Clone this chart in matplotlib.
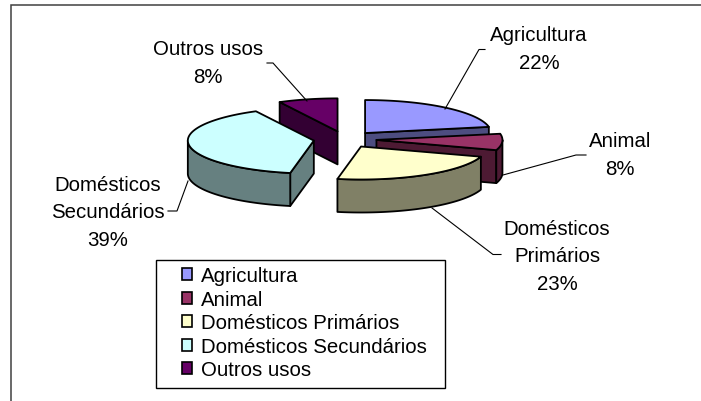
import numpy as np
import matplotlib
matplotlib.use("Agg")
import matplotlib.pyplot as plt
from matplotlib.patches import Polygon, Rectangle

# ---- data
categories = ["Agricultura", "Animal", "Domésticos Primários",
              "Domésticos Secundários", "Outros usos"]
chart_labels = ["Agricultura", "Animal", "Domésticos\nPrimários",
                "Domésticos\nSecundários", "Outros usos"]
values = [22, 8, 23, 39.4, 7.6]
top_colors = ["#9999FF", "#993366", "#FFFFCC", "#CCFFFF", "#660066"]
side_colors = ["#4D4D80", "#4D1A33", "#808066", "#668080", "#330033"]

# ---- layout (pixels of the 701x402 canvas)
W, H = 701, 402
CX, CY = 345.0, 140.4
RX, RY = 126.0, 33.0
DEPTH = 33.0
EXPLODE = 0.25
FONT = 14.7
label_anchor = [(539, 69), (620, 175), (557, 290), (108, 246), (208, 83)]
leaders = [[(445, 110), (479, 50.5), (485, 50.5)],
           [(503, 176), (576, 156), (586, 156)],
           [(432, 209), (493, 255.5), (501, 255.5)],
           [(188, 182), (177, 212), (168, 212)],
           [(307, 102), (273, 64), (267, 64)]]
draw_order = [4, 3, 0, 1, 2]

plt.rcParams["font.family"] = ["Liberation Sans", "DejaVu Sans"]
fig = plt.figure(figsize=(W / 100, H / 100), dpi=100, facecolor="white")
ax = fig.add_axes([0, 0, 1, 1])
ax.set_xlim(0, W)
ax.set_ylim(H, 0)
ax.axis("off")

# outer frame: only the top and left edges are in the picture
ax.plot([11, 11, W], [H, 6, 6], color="#404040", lw=1.1, solid_joinstyle="miter")


def ell(deg, cx, cy):
    a = np.radians(deg)
    return np.column_stack([cx + RX * np.sin(a), cy - RY * np.cos(a)])


total = sum(values)
edges = np.concatenate([[0], np.cumsum(values)]) / total * 360
style = dict(edgecolor="black", linewidth=1.3, joinstyle="round")

for i in draw_order:
    a0, a1 = edges[i], edges[i + 1]
    mid = np.radians((a0 + a1) / 2)
    cx = CX + EXPLODE * RX * np.sin(mid)
    cy = CY - EXPLODE * RY * np.cos(mid)
    apex = np.array([cx, cy])
    m = ell((a0 + a1) / 2, cx, cy)[0] - apex
    # straight cut walls that face the viewer
    for a in (a0, a1):
        p = ell(a, cx, cy)[0]
        d = p - apex
        if abs(d[0]) > 1 and (d[0] * m[1] - d[1] * m[0]) * d[0] < 0:
            ax.add_patch(Polygon([apex, p, p + [0, DEPTH], apex + [0, DEPTH]],
                                 facecolor=side_colors[i], **style))
    # rim wall (front half of the ellipse only)
    lo, hi = max(a0, 90), min(a1, 270)
    if hi > lo:
        arc = ell(np.linspace(lo, hi, 80), cx, cy)
        ax.add_patch(Polygon(np.vstack([arc, arc[::-1] + [0, DEPTH]]),
                             facecolor=side_colors[i], **style))
    # top face
    arc = ell(np.linspace(a0, a1, 120), cx, cy)
    ax.add_patch(Polygon(np.vstack([apex, arc]), facecolor=top_colors[i], **style))

# leader lines and data labels
for lab, val, (x, y), pts in zip(chart_labels, values, label_anchor, leaders):
    xs, ys = zip(*pts)
    ax.plot(xs, ys, color="black", lw=0.8, solid_joinstyle="miter")
    ax.text(x, y, f"{lab}\n{val:.0f}%", ha="center", va="baseline", fontsize=FONT,
            linespacing=1.58, color="black", multialignment="center")

# legend: box plus a real legend inside it
ax.add_patch(Rectangle((155.5, 261), 289.5, 128, facecolor="white",
                       edgecolor="black", linewidth=1.0, zorder=5))
handles = [Rectangle((0, 0), 1, 1, facecolor=c, edgecolor="black", linewidth=1.2)
           for c in top_colors]
leg = ax.legend(handles, categories, loc="upper left", bbox_to_anchor=(181.5, 267.5),
                bbox_transform=ax.transData, frameon=False, borderaxespad=0, borderpad=0,
                fontsize=FONT, handlelength=0.52, handleheight=0.52,
                handletextpad=0.43, labelspacing=0.22)
leg.set_zorder(6)

fig.savefig("out.png", dpi=100, facecolor="white")
